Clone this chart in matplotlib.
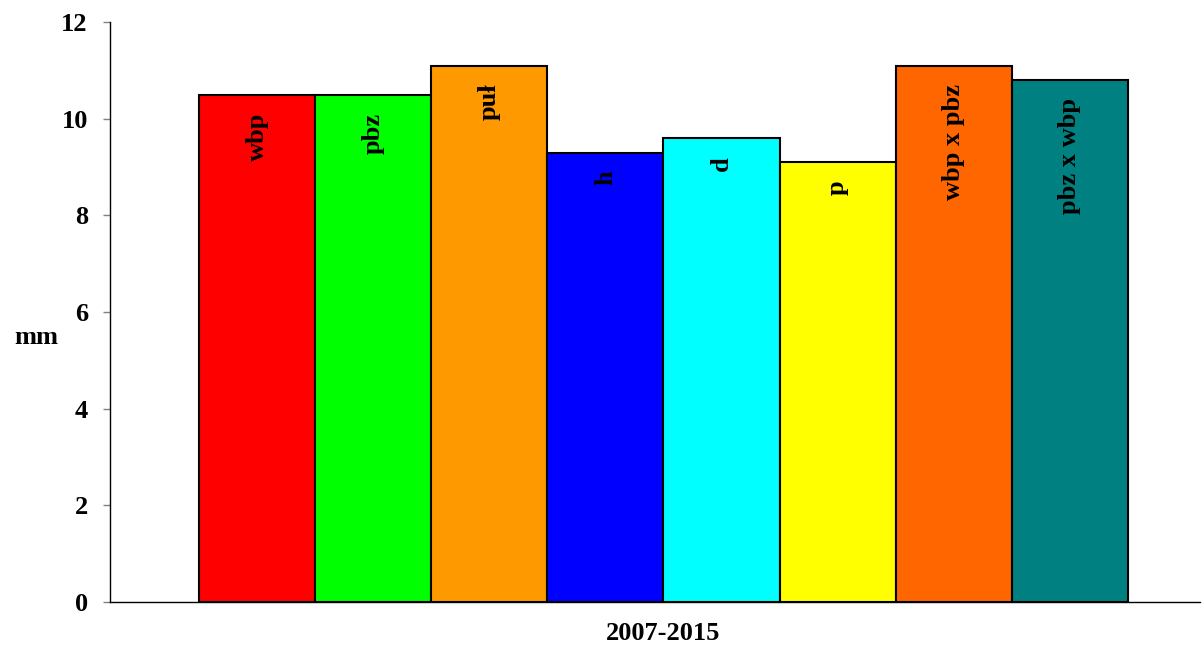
import matplotlib.pyplot as plt

plt.rcParams['font.family'] = ['Liberation Serif', 'DejaVu Serif']
plt.rcParams['font.weight'] = 'bold'

# Mean values per variant, 2007-2015
variants = ['wbp', 'pbz', 'puł', 'h', 'd', 'p', 'wbp x pbz', 'pbz x wbp']
values_mm = [10.5, 10.5, 11.1, 9.3, 9.6, 9.1, 11.1, 10.8]
bar_colors = ['#FF0000', '#00FF00', '#FF9900', '#0000FF',
              '#00FFFF', '#FFFF00', '#FF6600', '#008080']
period = '2007-2015'

fig = plt.figure(figsize=(12.02, 6.48), dpi=100)
ax = fig.add_axes([110 / 1202, 46 / 648, 1090 / 1202, 580 / 648])

positions = list(range(len(variants)))
bars = ax.bar(positions, values_mm, width=1.0, color=bar_colors,
              edgecolor='black', linewidth=1.5)

# Rotated variant names just under the top of each bar
for bar, name in zip(bars, variants):
    ax.annotate(name, xy=(bar.get_x() + bar.get_width() / 2, bar.get_height()),
                xytext=(0, -13), textcoords='offset points',
                rotation=90, ha='center', va='top',
                fontsize=19, fontweight='bold')

ax.set_xlim(-1.266, 8.12)
ax.set_ylim(0, 12)
ax.set_yticks(range(0, 13, 2))
ax.set_xticks([])
ax.tick_params(axis='y', direction='out', length=5, width=1,
               color='#808080', labelsize=19, pad=11)
for lab in ax.get_yticklabels():
    lab.set_fontweight('bold')

ax.spines['top'].set_visible(False)
ax.spines['right'].set_visible(False)
ax.spines['left'].set_linewidth(1)
ax.spines['bottom'].set_linewidth(1)

fig.text(36 / 1202, 1 - 337 / 648, 'mm', ha='center', va='center',
         fontsize=19, fontweight='bold')
ax.text((len(variants) - 1) / 2, -0.65, period, ha='center', va='center',
        fontsize=19, fontweight='bold', transform=ax.transData)

fig.savefig('out.png', dpi=100)
